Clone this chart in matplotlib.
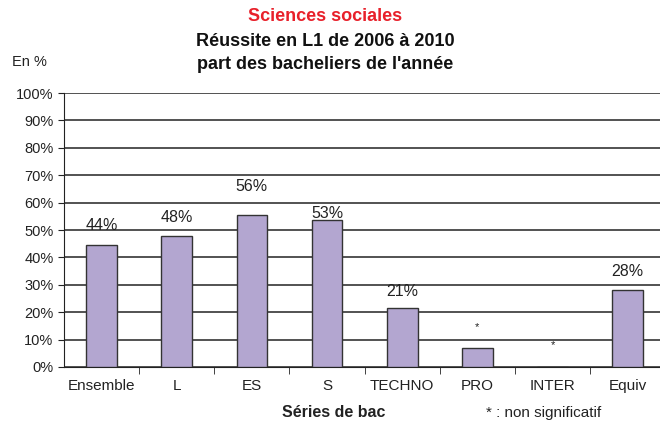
import matplotlib.pyplot as plt
import numpy as np

plt.rcParams['font.family'] = ['Liberation Sans', 'DejaVu Sans']

series = ["Ensemble", "L", "ES", "S", "TECHNO", "PRO", "INTER", "Equiv"]
reussite = [44.5, 48, 55.5, 53.5, 21.5, 7, 0, 28]
labels = ["44%", "48%", "56%", "53%", "21%", "*", "*", "28%"]
# label offsets above bar tops, in pixels (as placed on the original)
offsets = [20, 18, 28, 7, 17, 21, 22, 19]

fig = plt.figure(figsize=(6.6, 4.23), dpi=100)
ax = fig.add_axes([0.097, 0.1324, 0.903, 0.6476])

x = np.arange(len(series))
ax.bar(x, reussite, width=0.41, color='#B3A6D0', edgecolor='#333333', linewidth=1, zorder=3)

for xi, v, lab, off in zip(x, reussite, labels, offsets):
    fs = 8 if lab == "*" else 11.5
    ax.annotate(lab, (xi, v), xytext=(0, off), textcoords='offset pixels',
                ha='center', va='center', fontsize=fs, color='#222222')

ax.set_xlim(-0.5, 7.43)
ax.set_ylim(0, 100)
ax.set_yticks(np.arange(0, 101, 10))
ax.set_yticklabels([f"{v}%" for v in range(0, 101, 10)], fontsize=10.5, color='#222222')
ax.yaxis.grid(True, color='#444444', linewidth=1.3, zorder=0)
ax.set_axisbelow(True)

ax.set_xticks(x)
ax.set_xticklabels(series, fontsize=11, color='#222222')
ax.tick_params(axis='x', length=0, pad=9)
ax.set_xticks(x[:-1] + 0.5, minor=True)
ax.tick_params(axis='x', which='minor', length=5, direction='out', color='#222222')
ax.tick_params(axis='y', length=4, direction='out', color='#222222')

for s in ['top', 'right']:
    ax.spines[s].set_visible(False)
ax.spines['left'].set_color('#222222')
ax.spines['bottom'].set_color('#222222')

fig.text(0.492, 0.962, "Sciences sociales", color='#E8202A', fontsize=13, fontweight='bold', ha='center', va='center')
fig.text(0.493, 0.903, "Réussite en L1 de 2006 à 2010", color='#111111', fontsize=13, fontweight='bold', ha='center', va='center')
fig.text(0.493, 0.848, "part des bacheliers de l'année", color='#111111', fontsize=13, fontweight='bold', ha='center', va='center')
fig.text(0.045, 0.853, "En %", fontsize=10.5, color='#222222', ha='center', va='center')
fig.text(0.505, 0.024, "Séries de bac", fontsize=11.5, fontweight='bold',
         color='#222222', ha='center', va='center')
fig.text(0.823, 0.024, "* : non significatif", fontsize=11, color='#222222', ha='center', va='center')

plt.savefig('out.png', dpi=100)
